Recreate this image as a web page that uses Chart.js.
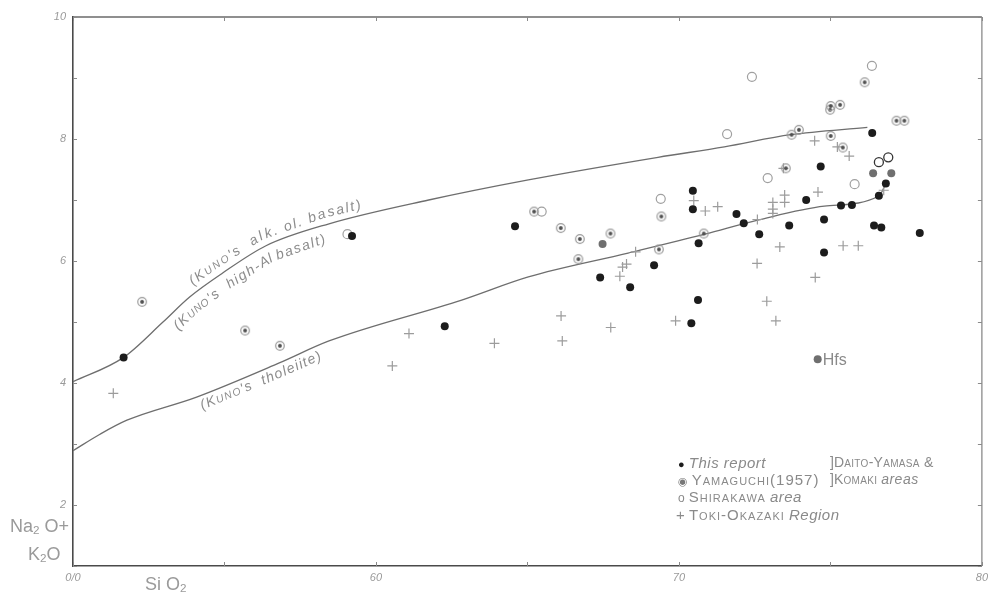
<!DOCTYPE html>
<html>
<head>
<meta charset="utf-8">
<script src="https://cdn.jsdelivr.net/npm/chart.js@4.4.0/dist/chart.umd.min.js"></script>
<style>
  html, body { margin: 0; padding: 0; background: #fff; }
  #wrap { position: relative; width: 993px; height: 601px; overflow: hidden; }
  #chart { position: absolute; left: 0; top: 0; }
  .t { position: absolute; color: #9a9a9a; white-space: nowrap; font-family: "Liberation Sans", "DejaVu Sans", sans-serif; }
  .t sub { font-size: 65%; vertical-align: -0.2em; }
  .sc { font-variant: small-caps; letter-spacing: 1px; }
  .leg { font-size: 15px; line-height: 17px; color: #8a8a8a; }
  .leg i { letter-spacing: 0.5px; }
</style>
</head>
<body>
<div id="wrap">
  <canvas id="chart" width="993" height="601"></canvas>

  <!-- axis titles -->
  <div class="t" style="left:10px;top:516px;font-size:18px;">Na<sub>2</sub> O+</div>
  <div class="t" style="left:28px;top:544px;font-size:18px;">K<sub>2</sub>O</div>
  <div class="t" style="left:145px;top:574px;font-size:18px;">Si O<sub>2</sub></div>

  <!-- legend -->
  <div class="t leg" style="left:678px;top:454px;"><span style="color:#1c1c1c;font-size:11px;">●</span> <i>This report</i></div>
  <div class="t leg" style="left:678px;top:471px;"><span style="font-size:11px;color:#777;">◉</span> <span class="sc">Yamaguchi(1957)</span></div>
  <div class="t leg" style="left:678px;top:488px;"><span style="font-size:12px;">o</span> <span class="sc">Shirakawa</span> <i>area</i></div>
  <div class="t leg" style="left:676px;top:506px;">+ <span class="sc">Toki-Okazaki</span> <i>Region</i></div>
  <div class="t leg" style="left:830px;top:454px;font-size:14px;">]<span class="sc" style="letter-spacing:0.3px">Daito-Yamasa &amp;</span></div>
  <div class="t leg" style="left:830px;top:471px;font-size:14px;">]<span class="sc" style="letter-spacing:0.3px">Komaki</span> <i>areas</i></div>
</div>

<script>
// axis ranges and tick labels
const siO2Range = [50, 80];
const alkaliRange = [1, 10];
const xTickLabels = { 50: '0/0', 60: '60', 70: '70', 80: '80' };
const yTickLabels = { 2: '2', 4: '4', 6: '6', 8: '8', 10: '10' };

// Kuno's boundary curves
const alkBasaltX = [50.0, 51.67, 52.97, 53.85, 54.93, 56.37, 58.45, 61.74, 65.03, 69.31, 71.5, 73.69, 76.22];
const alkBasaltY = [4.02, 4.42, 5.0, 5.41, 5.8, 6.25, 6.61, 7.0, 7.33, 7.7, 7.87, 8.07, 8.19];
const tholeiiteX = [50.0, 50.89, 51.78, 54.08, 56.81, 58.45, 62.83, 65.03, 68.32, 70.86, 72.6, 74.8, 76.61, 76.84];
const tholeiiteY = [2.89, 3.16, 3.39, 3.77, 4.33, 4.69, 5.36, 5.74, 6.13, 6.44, 6.67, 6.9, 7.07, 7.28];

// This report (black dots)
const thisReportX = [51.67, 59.21, 62.27, 64.59, 67.40, 68.39, 69.18, 70.46, 70.46, 70.65, 70.63, 70.41, 71.90, 72.14, 72.65, 73.64, 74.20, 74.68, 74.79, 74.79, 75.35, 75.71, 76.38, 76.44, 76.60, 76.68, 76.83, 77.95];
const thisReportY = [4.42, 6.41, 4.93, 6.57, 5.73, 5.57, 5.93, 7.15, 6.85, 6.29, 5.36, 4.98, 6.77, 6.62, 6.44, 6.58, 7.00, 7.55, 6.68, 6.14, 6.91, 6.92, 8.10, 6.58, 7.07, 6.55, 7.27, 6.46];

// grey filled dots
const greyDotX = [67.48, 76.41, 77.01];
const greyDotY = [6.28, 7.44, 7.44];
const hfsX = [74.58];
const hfsY = [4.39];

// Yamaguchi (1957)
const yamaguchiX = [52.28, 55.68, 56.83, 65.22, 66.10, 66.73, 66.68, 67.74, 69.42, 69.34, 70.82, 73.53, 73.72, 73.96, 74.99, 75.01, 75.01, 75.32, 75.41, 76.13, 77.18, 77.44];
const yamaguchiY = [5.33, 4.86, 4.61, 6.81, 6.54, 6.36, 6.03, 6.45, 6.73, 6.19, 6.45, 7.52, 8.07, 8.15, 8.48, 8.54, 8.05, 8.56, 7.86, 8.93, 8.30, 8.30];

// Shirakawa area (open circles)
const shirakawaX = [59.06, 65.47, 69.40, 71.59, 72.41, 72.93, 75.80, 76.37];
const shirakawaY = [6.44, 6.81, 7.02, 8.08, 9.02, 7.36, 7.26, 9.20];
const shirakawaDarkX = [76.60, 76.91];
const shirakawaDarkY = [7.62, 7.70];

// Toki-Okazaki region (crosses)
const tokiX = [51.33, 60.54, 61.09, 63.91, 66.11, 66.15, 67.75, 68.05, 68.14, 68.27, 68.57, 69.89, 70.49, 70.87, 71.28, 72.58, 72.59, 72.90, 73.10, 73.10, 73.10, 73.20, 73.33, 73.45, 73.49, 73.49, 74.48, 74.50, 74.59, 75.23, 75.42, 75.62, 75.92, 76.76];
const tokiY = [3.83, 4.28, 4.81, 4.65, 5.10, 4.69, 4.91, 5.75, 5.90, 5.95, 6.15, 5.02, 6.99, 6.82, 6.89, 5.96, 6.68, 5.34, 6.96, 6.85, 6.78, 5.02, 6.23, 7.52, 7.08, 6.96, 7.97, 5.73, 7.13, 7.87, 6.25, 7.72, 6.25, 7.16];

const zip = (xs, ys) => xs.map((x, i) => ({ x: x, y: ys[i] }));

// circle with a dot in the middle
function yamaguchiMark(r) {
  const c = document.createElement('canvas');
  const s = Math.ceil(r * 2 + 3);
  c.width = s; c.height = s;
  const g = c.getContext('2d');
  g.strokeStyle = '#9a9a9a';
  g.lineWidth = 1.2;
  g.beginPath(); g.arc(s / 2, s / 2, r, 0, Math.PI * 2); g.stroke();
  g.fillStyle = '#505050';
  g.beginPath(); g.arc(s / 2, s / 2, r * 0.45, 0, Math.PI * 2); g.fill();
  return c;
}

const curveLabels = [
  { xs: alkBasaltX, ys: alkBasaltY, start: 54.1, offset: -7, spacing: 1.8,
    parts: [['(K', 14], ['UNO', 10.5], ["'s  alk. ol. basalt)", 14]] },
  { xs: alkBasaltX, ys: alkBasaltY, start: 53.1, offset: 17, spacing: 1.6,
    parts: [['(K', 14], ['UNO', 10.5], ["'s  high-Al basalt)", 14]] },
  { xs: tholeiiteX, ys: tholeiiteY, start: 54.1, offset: 14, spacing: 1.2,
    parts: [['(K', 14], ['UNO', 10.5], ["'s  tholeiite)", 14]] }
];

function textAlongCurve(ctx, sx, sy, lab) {
  const pts = lab.xs.map((v, i) => [sx.getPixelForValue(v), sy.getPixelForValue(lab.ys[i])]);
  const cum = [0];
  for (let i = 1; i < pts.length; i++) {
    cum.push(cum[i - 1] + Math.hypot(pts[i][0] - pts[i - 1][0], pts[i][1] - pts[i - 1][1]));
  }
  const pos = s => {
    let i = 1;
    while (i < pts.length - 1 && cum[i] < s) i++;
    const t = (s - cum[i - 1]) / (cum[i] - cum[i - 1]);
    return [pts[i - 1][0] + (pts[i][0] - pts[i - 1][0]) * t, pts[i - 1][1] + (pts[i][1] - pts[i - 1][1]) * t];
  };
  const px0 = sx.getPixelForValue(lab.start);
  let s = 0;
  for (let i = 1; i < pts.length; i++) {
    if (pts[i][0] >= px0) {
      const t = (px0 - pts[i - 1][0]) / (pts[i][0] - pts[i - 1][0]);
      s = cum[i - 1] + t * (cum[i] - cum[i - 1]);
      break;
    }
  }
  ctx.fillStyle = '#8c8c8c';
  ctx.textBaseline = 'alphabetic';
  ctx.textAlign = 'left';
  lab.parts.forEach(([str, size]) => {
    ctx.font = 'italic ' + size + 'px "Liberation Sans", sans-serif';
    for (const ch of str) {
      const w = ctx.measureText(ch).width;
      const m = s + w / 2;
      const p = pos(m);
      const a0 = pos(m - 6), a1 = pos(m + 6);
      const ang = Math.atan2(a1[1] - a0[1], a1[0] - a0[0]);
      const nx = -Math.sin(ang), ny = Math.cos(ang);
      ctx.save();
      ctx.translate(p[0] + nx * lab.offset, p[1] + ny * lab.offset);
      ctx.rotate(ang);
      ctx.fillText(ch, -w / 2, 0);
      ctx.restore();
      s += w + lab.spacing;
    }
  });
}

const frameAndNotes = {
  id: 'frameAndNotes',
  afterDatasetsDraw(chart) {
    const { ctx, chartArea: a, scales: { x, y } } = chart;
    ctx.save();
    // top and right edges of the frame
    ctx.lineWidth = 1.3;
    ctx.strokeStyle = '#6a6a6a';
    ctx.beginPath(); ctx.moveTo(a.left, a.top); ctx.lineTo(a.right, a.top); ctx.stroke();
    ctx.strokeStyle = '#8a8a8a';
    ctx.beginPath(); ctx.moveTo(a.right, a.top); ctx.lineTo(a.right, a.bottom); ctx.stroke();

    // inward tick marks on all four sides
    ctx.strokeStyle = '#8a8a8a';
    ctx.lineWidth = 1;
    x.ticks.forEach(t => {
      const px = Math.round(x.getPixelForValue(t.value)) + 0.5;
      ctx.beginPath();
      ctx.moveTo(px, a.bottom); ctx.lineTo(px, a.bottom - 4);
      ctx.moveTo(px, a.top); ctx.lineTo(px, a.top + 4);
      ctx.stroke();
    });
    y.ticks.forEach(t => {
      const py = Math.round(y.getPixelForValue(t.value)) + 0.5;
      ctx.beginPath();
      ctx.moveTo(a.left, py); ctx.lineTo(a.left + 4, py);
      ctx.moveTo(a.right, py); ctx.lineTo(a.right - 4, py);
      ctx.stroke();
    });

    curveLabels.forEach(l => textAlongCurve(ctx, x, y, l));

    ctx.fillStyle = '#8a8a8a';
    ctx.font = '16px "Liberation Sans", sans-serif';
    ctx.textBaseline = 'middle';
    ctx.textAlign = 'left';
    ctx.fillText('Hfs', x.getPixelForValue(hfsX[0]) + 5, y.getPixelForValue(hfsY[0]) + 1);
    ctx.restore();
  }
};

const lineStyle = {
  type: 'line', showLine: true, pointRadius: 0, borderColor: '#6e6e6e', borderWidth: 1.3,
  cubicInterpolationMode: 'monotone', fill: false, order: 10
};

new Chart(document.getElementById('chart'), {
  type: 'scatter',
  data: {
    datasets: [
      Object.assign({ label: 'alk', data: zip(alkBasaltX, alkBasaltY) }, lineStyle),
      Object.assign({ label: 'thol', data: zip(tholeiiteX, tholeiiteY) }, lineStyle),
      { label: 'Toki-Okazaki Region', data: zip(tokiX, tokiY), pointStyle: 'cross', pointRadius: 5,
        borderColor: '#9c9c9c', borderWidth: 1.2, order: 5 },
      { label: 'Shirakawa area', data: zip(shirakawaX, shirakawaY), pointStyle: 'circle', pointRadius: 4.5,
        backgroundColor: 'rgba(255,255,255,0)', borderColor: '#a0a0a0', borderWidth: 1.2, order: 4 },
      { label: 'Shirakawa dark', data: zip(shirakawaDarkX, shirakawaDarkY), pointStyle: 'circle', pointRadius: 4.5,
        backgroundColor: 'rgba(255,255,255,0)', borderColor: '#333', borderWidth: 1.3, order: 4 },
      { label: 'Yamaguchi (1957)', data: zip(yamaguchiX, yamaguchiY), pointStyle: yamaguchiMark(4.3),
        pointRadius: 4.5, order: 3 },
      { label: 'grey', data: zip(greyDotX.concat(hfsX), greyDotY.concat(hfsY)), pointStyle: 'circle', pointRadius: 4,
        backgroundColor: '#6f6f6f', borderColor: '#6f6f6f', borderWidth: 0, order: 2 },
      { label: 'This report', data: zip(thisReportX, thisReportY), pointStyle: 'circle', pointRadius: 4,
        backgroundColor: '#1c1c1c', borderColor: '#1c1c1c', borderWidth: 0, order: 1 }
    ]
  },
  options: {
    responsive: false,
    animation: false,
    events: [],
    layout: { padding: { top: 17, right: 8, left: 0, bottom: 0 } },
    plugins: { legend: { display: false }, tooltip: { enabled: false } },
    scales: {
      x: {
        type: 'linear', min: siO2Range[0], max: siO2Range[1],
        afterFit: s => { s.height = 35; },
        grid: { display: true, drawOnChartArea: false, drawTicks: false },
        border: { display: true, color: '#4a4a4a', width: 1.6 },
        ticks: {
          stepSize: 5, autoSkip: false, maxRotation: 0, padding: 5, color: '#9a9a9a',
          font: { family: '"Liberation Sans", sans-serif', size: 11, style: 'italic' },
          callback: v => xTickLabels[v] || ''
        }
      },
      y: {
        type: 'linear', min: alkaliRange[0], max: alkaliRange[1],
        afterFit: s => { s.width = 73; },
        grid: { display: true, drawOnChartArea: false, drawTicks: false },
        border: { display: true, color: '#4a4a4a', width: 1.6 },
        ticks: {
          stepSize: 1, autoSkip: false, padding: 7, color: '#9a9a9a',
          font: { family: '"Liberation Sans", sans-serif', size: 11, style: 'italic' },
          callback: v => yTickLabels[v] || ''
        }
      }
    }
  },
  plugins: [frameAndNotes]
});
</script>
</body>
</html>
